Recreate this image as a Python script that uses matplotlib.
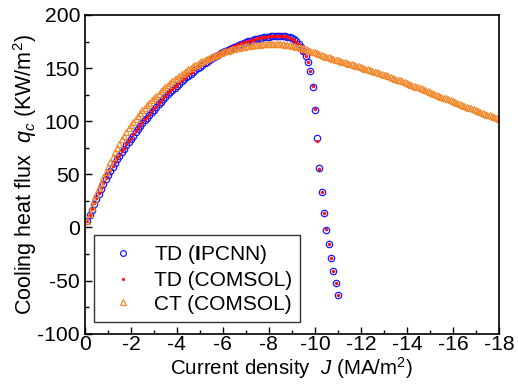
import matplotlib
matplotlib.use("Agg")
import matplotlib.pyplot as plt
from matplotlib.ticker import MultipleLocator

plt.rcParams['font.family'] = ['Liberation Sans', 'DejaVu Sans']
plt.rcParams['mathtext.fontset'] = 'custom'
plt.rcParams['mathtext.rm'] = 'Liberation Sans'
plt.rcParams['mathtext.it'] = 'Liberation Sans:italic'
plt.rcParams['mathtext.bf'] = 'Liberation Sans:bold'
plt.rcParams['axes.unicode_minus'] = False

# Current density (MA/m^2)
current_density = [
    -0.1, -0.2, -0.3, -0.4, -0.5, -0.6, -0.7, -0.8, -0.9, -1.0,
    -1.1, -1.2, -1.3, -1.4, -1.5, -1.6, -1.7, -1.8, -1.9, -2.0,
    -2.1, -2.2, -2.3, -2.4, -2.5, -2.6, -2.7, -2.8, -2.9, -3.0,
    -3.1, -3.2, -3.3, -3.4, -3.5, -3.6, -3.7, -3.8, -3.9, -4.0,
    -4.1, -4.2, -4.3, -4.4, -4.5, -4.6, -4.7, -4.8, -4.9, -5.0,
    -5.1, -5.2, -5.3, -5.4, -5.5, -5.6, -5.7, -5.8, -5.9, -6.0,
    -6.1, -6.2, -6.3, -6.4, -6.5, -6.6, -6.7, -6.8, -6.9, -7.0,
    -7.1, -7.2, -7.3, -7.4, -7.5, -7.6, -7.7, -7.8, -7.9, -8.0,
    -8.1, -8.2, -8.3, -8.4, -8.5, -8.6, -8.7, -8.8, -8.9, -9.0,
    -9.1, -9.2, -9.3, -9.4, -9.5, -9.6, -9.7, -9.8, -9.9, -10.0,
    -10.1, -10.2, -10.3, -10.4, -10.5, -10.6, -10.7, -10.8, -10.9, -11.0,
    -11.1, -11.2, -11.3, -11.4, -11.5, -11.6, -11.7, -11.8, -11.9, -12.0,
    -12.1, -12.2, -12.3, -12.4, -12.5, -12.6, -12.7, -12.8, -12.9, -13.0,
    -13.1, -13.2, -13.3, -13.4, -13.5, -13.6, -13.7, -13.8, -13.9, -14.0,
    -14.1, -14.2, -14.3, -14.4, -14.5, -14.6, -14.7, -14.8, -14.9, -15.0,
    -15.1, -15.2, -15.3, -15.4, -15.5, -15.6, -15.7, -15.8, -15.9, -16.0,
    -16.1, -16.2, -16.3, -16.4, -16.5, -16.6, -16.7, -16.8, -16.9, -17.0,
    -17.1, -17.2, -17.3, -17.4, -17.5, -17.6, -17.7, -17.8, -17.9, -18.0,
]

# TD (IPCNN) cooling heat flux, J = -0.1 .. -11.0
td_ipcnn = [
    5.9, 11.5, 16.9, 22.0, 27.0, 31.8, 36.4, 40.9, 45.3, 49.5,
    53.4, 57.1, 60.7, 64.2, 67.5, 70.8, 74.1, 77.3, 80.4, 83.5,
    86.5, 89.4, 92.3, 95.2, 98.0, 100.7, 103.4, 106.0, 108.5, 111.0,
    113.5, 115.9, 118.3, 120.7, 123.0, 125.2, 127.3, 129.4, 131.5, 133.5,
    135.5, 137.4, 139.3, 141.2, 143.0, 144.8, 146.5, 148.2, 149.9, 151.5,
    153.0, 154.5, 156.0, 157.4, 158.8, 160.1, 161.4, 162.7, 163.9, 165.0,
    166.1, 167.2, 168.2, 169.2, 170.2, 171.1, 172.0, 172.8, 173.6, 174.4,
    175.1, 175.8, 176.4, 177.0, 177.6, 178.1, 178.5, 178.9, 179.3, 179.6,
    179.9, 180.1, 180.3, 180.4, 180.4, 180.3, 180.0, 179.6, 179.0, 178.2,
    177.0, 175.2, 172.8, 169.8, 165.8, 161.0, 155.5, 147.0, 132.0, 111.0,
    84.0, 56.0, 33.0, 14.0, -2.0, -16.0, -29.0, -41.0, -52.5, -63.5,
]

# TD (COMSOL) cooling heat flux, J = -0.1 .. -11.0
td_comsol = [
    6.2, 12.1, 17.7, 23.0, 28.0, 32.8, 37.4, 41.9, 46.3, 50.5,
    54.4, 58.1, 61.7, 65.2, 68.5, 71.8, 75.1, 78.3, 81.4, 84.5,
    87.5, 90.4, 93.3, 96.2, 99.0, 101.7, 104.4, 107.0, 109.5, 112.0,
    114.5, 116.9, 119.3, 121.7, 124.0, 126.2, 128.3, 130.4, 132.5, 134.5,
    136.5, 138.4, 140.3, 142.2, 144.0, 145.8, 147.5, 149.2, 150.9, 152.5,
    153.6, 155.1, 156.6, 158.0, 159.4, 160.7, 162.0, 163.3, 164.5, 165.6,
    166.6, 167.7, 168.7, 169.7, 170.7, 171.6, 172.5, 173.3, 174.1, 174.8,
    175.5, 176.2, 176.8, 177.4, 177.9, 178.4, 178.8, 179.2, 179.5, 179.8,
    180.0, 180.2, 180.3, 180.4, 180.3, 180.1, 179.8, 179.3, 178.6, 177.7,
    176.4, 174.6, 172.3, 169.4, 165.6, 161.0, 155.8, 147.2, 133.6, 111.2,
    81.8, 54.8, 33.2, 14.0, -1.8, -15.8, -28.8, -40.8, -52.3, -63.2,
]

# CT (COMSOL) cooling heat flux, J = -0.1 .. -18.0
ct_comsol = [
    6.5, 13.0, 19.3, 25.4, 31.3, 36.9, 42.2, 47.3, 52.2, 57.0,
    61.7, 66.2, 70.6, 74.9, 79.0, 82.9, 86.5, 90.0, 93.3, 96.5,
    99.6, 102.5, 105.2, 107.8, 110.3, 112.7, 115.0, 117.3, 119.5, 121.7,
    123.9, 126.0, 128.1, 130.1, 132.1, 133.9, 135.7, 137.5, 139.3, 141.0,
    142.7, 144.3, 145.8, 147.3, 148.8, 150.2, 151.6, 152.9, 154.2, 155.4,
    156.6, 157.7, 158.8, 159.8, 160.8, 161.7, 162.6, 163.4, 164.2, 165.0,
    165.7, 166.4, 167.0, 167.6, 168.2, 168.7, 169.2, 169.6, 170.1, 170.5,
    170.8, 171.1, 171.4, 171.7, 172.0, 172.2, 172.4, 172.5, 172.6, 172.7,
    172.7, 172.7, 172.7, 172.6, 172.5, 172.3, 172.1, 171.8, 171.5, 171.2,
    170.8, 170.3, 169.8, 169.2, 168.6, 167.9, 167.2, 166.4, 165.6, 164.8,
    164.0, 163.2, 162.4, 161.6, 160.8, 160.1, 159.4, 158.7, 158.0, 157.3,
    156.7, 156.0, 155.4, 154.8, 154.1, 153.5, 152.9, 152.2, 151.6, 150.9,
    150.2, 149.5, 148.8, 148.1, 147.4, 146.7, 146.0, 145.3, 144.5, 143.8,
    143.1, 142.3, 141.6, 140.8, 140.0, 139.2, 138.4, 137.6, 136.8, 136.0,
    135.2, 134.3, 133.5, 132.6, 131.8, 130.9, 130.1, 129.2, 128.4, 127.5,
    126.6, 125.8, 124.9, 124.1, 123.2, 122.3, 121.5, 120.6, 119.8, 118.9,
    118.0, 117.2, 116.3, 115.5, 114.6, 113.8, 112.9, 112.1, 111.2, 110.4,
    109.6, 108.7, 107.9, 107.1, 106.2, 105.4, 104.6, 103.8, 102.9, 102.1,
]

x_ticks = [0, -2, -4, -6, -8, -10, -12, -14, -16, -18]
y_ticks = [-100, -50, 0, 50, 100, 150, 200]
series_labels = [r"TD ($\mathbf{I}$PCNN)", "TD (COMSOL)", "CT (COMSOL)"]

fig = plt.figure(figsize=(5.18, 3.84), dpi=100)
ax = fig.add_axes([0.164, 0.131, 0.799, 0.830])

td_j = current_density[:len(td_ipcnn)]
ax.plot(td_j, td_ipcnn, linestyle='none', marker='o', ms=4.6, mfc='none',
        mec='#1a1aff', mew=0.9, label=series_labels[0])
ax.plot(td_j, td_comsol, linestyle='none', marker='o', ms=2.2, mfc='#ff1010',
        mec='#ff1010', mew=0.3, label=series_labels[1])
ax.plot(current_density, ct_comsol, linestyle='none', marker='^', ms=4.6,
        mfc='none', mec='#f28a30', mew=0.9, label=series_labels[2])

ax.set_xlim(0, -18)
ax.set_ylim(-100, 200)
ax.set_xticks(x_ticks)
ax.set_yticks(y_ticks)
ax.set_xticklabels([str(v) for v in x_ticks])
ax.set_yticklabels([str(v) for v in y_ticks])
ax.xaxis.set_minor_locator(MultipleLocator(1))
ax.yaxis.set_minor_locator(MultipleLocator(25))
ax.tick_params(which='both', direction='in', top=False, right=False,
               labelsize=15.2, width=1.0)
ax.tick_params(axis='x', which='both', pad=1.0)
ax.tick_params(axis='y', which='both', pad=3.5)
ax.tick_params(which='major', length=5)
ax.tick_params(which='minor', length=3)
for s in ax.spines.values():
    s.set_linewidth(1.2)

ax.set_xlabel(r"Current density  $J$ (MA/m$^2$)", fontsize=14.8, labelpad=0.5)
ax.set_ylabel(r"Cooling heat flux  $q_c$ (KW/m$^2$)", fontsize=15.5, labelpad=-1)

leg = ax.legend(loc='lower left', bbox_to_anchor=(0.022, 0.037), fontsize=15,
                frameon=True, fancybox=False, edgecolor='black',
                handlelength=1.96, handletextpad=0.5, borderpad=0.4,
                labelspacing=0.22, borderaxespad=0.0, markerscale=0.9)
leg.get_frame().set_linewidth(1.0)

fig.savefig("out.png", dpi=100)
